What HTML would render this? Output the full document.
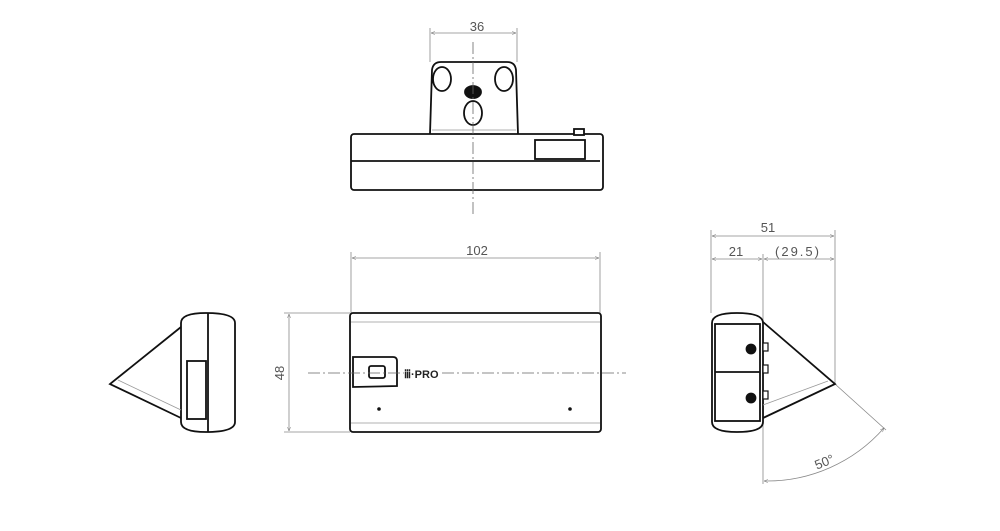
<!DOCTYPE html>
<html><head><meta charset="utf-8"><style>
html,body{margin:0;padding:0;background:#fff;}
svg{display:block;}
text{font-family:"Liberation Sans",sans-serif;fill:#555;}
</style></head><body>
<svg width="1000" height="531" viewBox="0 0 1000 531" xmlns="http://www.w3.org/2000/svg">
<defs>
<marker id="a" viewBox="0 0 10 10" refX="10" refY="5" markerWidth="7" markerHeight="5" orient="auto-start-reverse"><path d="M0,1 L10,5 L0,9" fill="none" stroke="#777" stroke-width="1.2"/></marker>
</defs>
<g stroke="#888" stroke-width="0.8" fill="none">
<line x1="430" y1="28" x2="430" y2="62"/><line x1="517" y1="28" x2="517" y2="62"/>
<line x1="431" y1="33" x2="516" y2="33" marker-start="url(#a)" marker-end="url(#a)"/>
<line x1="351" y1="252" x2="351" y2="313"/><line x1="600" y1="252" x2="600" y2="313"/>
<line x1="352" y1="258" x2="599" y2="258" marker-start="url(#a)" marker-end="url(#a)"/>
<line x1="284" y1="313" x2="350" y2="313"/><line x1="284" y1="432" x2="350" y2="432"/>
<line x1="289" y1="314" x2="289" y2="431" marker-start="url(#a)" marker-end="url(#a)"/>
<line x1="711" y1="230" x2="711" y2="313"/><line x1="763" y1="254" x2="763" y2="484"/><line x1="835" y1="230" x2="835" y2="384"/>
<line x1="712" y1="236" x2="834" y2="236" marker-start="url(#a)" marker-end="url(#a)"/>
<line x1="712" y1="259" x2="762" y2="259" marker-start="url(#a)" marker-end="url(#a)"/>
<line x1="764" y1="259" x2="834" y2="259" marker-start="url(#a)" marker-end="url(#a)"/>
<line x1="835" y1="384" x2="886" y2="430"/>
<path d="M764,481 A156,156 0 0 0 884,428" marker-start="url(#a)" marker-end="url(#a)"/>
</g>
<g font-size="13">
<text x="477" y="31" text-anchor="middle">36</text>
<text x="477" y="255" text-anchor="middle">102</text>
<text x="287" y="373" text-anchor="middle" transform="rotate(-90 287 373)" dy="-3">48</text>
<text x="768" y="232" text-anchor="middle">51</text>
<text x="736" y="256" text-anchor="middle">21</text>
<text x="798" y="256" text-anchor="middle" letter-spacing="2">(29.5)</text>
<text x="826" y="466" text-anchor="middle" transform="rotate(-22 826 466)">50°</text>
</g>
<g stroke="#111" stroke-width="1.8" fill="#fff">
<path d="M430,134 L432,70 Q433,62 441,62 L507,62 Q515,62 516,70 L518,134"/>
<ellipse cx="442" cy="79" rx="9" ry="12"/><ellipse cx="504" cy="79" rx="9" ry="12"/>
<ellipse cx="473" cy="92" rx="8" ry="6" fill="#111"/>
<ellipse cx="473" cy="113" rx="9" ry="12"/>
<rect x="351" y="134" width="252" height="56" rx="3"/>
<line x1="351" y1="161" x2="600" y2="161"/>
<rect x="535" y="140" width="50" height="19" fill="none"/>
<rect x="574" y="129" width="10" height="6"/>
<rect x="350" y="313" width="251" height="119" rx="3"/>
<path d="M353,387 L353,357 L393,357 Q397,357 397,361 L397,386 Z"/>
<rect x="369" y="366" width="16" height="12" rx="2"/>
<path d="M181,327 L110,384 L181,418" fill="none"/>
<path d="M181,323 Q181,313 206,313 Q235,313 235,323 L235,422 Q235,432 206,432 Q181,432 181,422 Z"/>
<line x1="208" y1="313" x2="208" y2="432"/>
<rect x="187" y="361" width="19" height="58"/>
<path d="M763,322 L835,384 L763,418" fill="none"/>
<path d="M712,323 Q712,313 737,313 Q763,313 763,323 L763,422 Q763,432 737,432 Q712,432 712,422 Z"/>
<rect x="715" y="324" width="45" height="97" fill="none"/>
<line x1="715" y1="372" x2="760" y2="372"/>
<circle cx="751" cy="349" r="4.5" fill="#111"/><circle cx="751" cy="398" r="4.5" fill="#111"/>
<rect x="763" y="343" width="5" height="8" stroke-width="1.2"/><rect x="763" y="365" width="5" height="8" stroke-width="1.2"/><rect x="763" y="391" width="5" height="8" stroke-width="1.2"/>
</g>
<g stroke="#999" stroke-width="0.8">
<line x1="351" y1="322" x2="600" y2="322"/><line x1="351" y1="423" x2="600" y2="423"/>
<line x1="118" y1="380" x2="181" y2="410"/>
<line x1="763" y1="405" x2="828" y2="381"/>
<line x1="432" y1="130" x2="516" y2="130"/>
</g>
<g stroke="#666" stroke-width="0.8" fill="none" stroke-dasharray="12,3,2,3">
<line x1="473" y1="42" x2="473" y2="214"/>
<line x1="308" y1="373" x2="404" y2="373"/>
<line x1="442" y1="373" x2="626" y2="373"/>
</g>
<circle cx="379" cy="409" r="1.8" fill="#111"/><circle cx="570" cy="409" r="1.8" fill="#111"/>
<text x="404" y="378" font-size="11" font-weight="bold" style="fill:#222">ⅲ·PRO</text>
</svg>
</body></html>
